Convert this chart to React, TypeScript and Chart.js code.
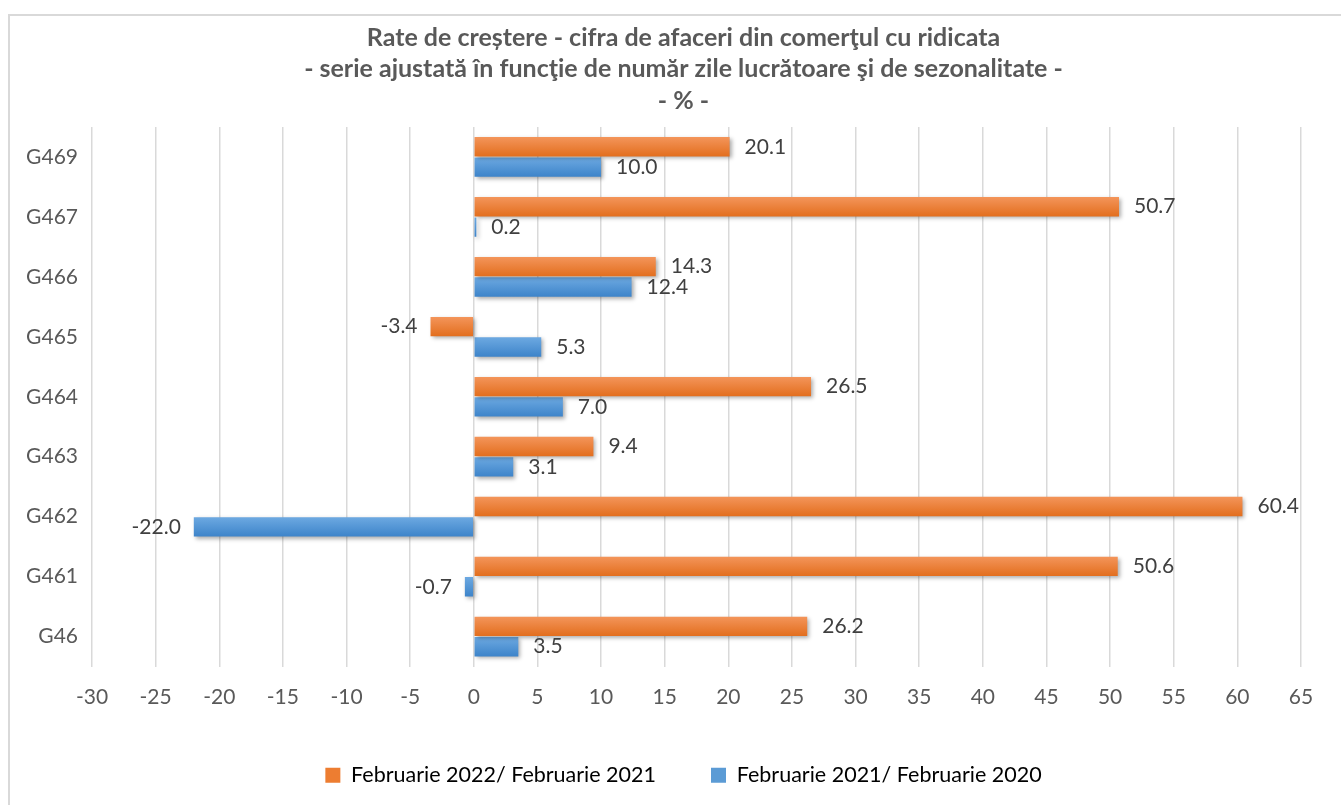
import React, { useEffect, useRef } from 'react';
import { Chart, registerables } from 'chart.js';

Chart.register(...registerables);

const categories = ['G469', 'G467', 'G466', 'G465', 'G464', 'G463', 'G462', 'G461', 'G46'];
const feb2022 = [20.1, 50.7, 14.3, -3.4, 26.5, 9.4, 60.4, 50.6, 26.2];
const feb2021 = [10.0, 0.2, 12.4, 5.3, 7.0, 3.1, -22.0, -0.7, 3.5];
const seriesNames = ['Februarie 2022/ Februarie 2021', 'Februarie 2021/ Februarie 2020'];
const titleLines = [
  'Rate de creștere - cifra de afaceri din comerţul cu ridicata',
  '- serie ajustată în funcţie de număr zile lucrătoare şi de sezonalitate -',
  '- % -',
];
const xMin = -30;
const xMax = 65;
const xStep = 5;

const ORANGE = '#ed7d31';
const BLUE = '#5b9bd5';
const FONT = 'Lato';
const CAT_PCT = 0.68;

const makeFill = (top: string, bottom: string, solid: string, dsIndex: number) => (c: any) => {
  const chart = c.chart;
  const ys = chart.scales && chart.scales.y;
  if (c.type !== 'data' || !ys) return solid;
  const center = ys.getPixelForValue(c.dataIndex);
  const step = Math.abs(ys.getPixelForValue(1) - ys.getPixelForValue(0));
  if (!isFinite(center) || !isFinite(step) || step === 0) return solid;
  const bw = (step * CAT_PCT) / 2;
  const y0 = dsIndex === 0 ? center - bw : center;
  const g = chart.ctx.createLinearGradient(0, y0, 0, y0 + bw);
  g.addColorStop(0, top);
  g.addColorStop(1, bottom);
  return g;
};

const shadowPlugin = {
  id: 'barShadow',
  beforeDatasetDraw(chart: any) {
    const ctx = chart.ctx;
    ctx.save();
    ctx.shadowColor = 'rgba(0,0,0,0.32)';
    ctx.shadowBlur = 4;
    ctx.shadowOffsetX = 2;
    ctx.shadowOffsetY = 2;
  },
  afterDatasetDraw(chart: any) {
    chart.ctx.restore();
  },
};

const valueLabels = {
  id: 'valueLabels',
  afterDatasetsDraw(chart: any) {
    const ctx = chart.ctx;
    ctx.save();
    ctx.font = `21px ${FONT}`;
    ctx.fillStyle = '#404040';
    ctx.textBaseline = 'middle';
    chart.data.datasets.forEach((ds: any, di: number) => {
      const meta = chart.getDatasetMeta(di);
      meta.data.forEach((el: any, i: number) => {
        const v = ds.data[i] as number;
        const p = el.getProps(['x', 'y'], true);
        const txt = v.toFixed(1);
        if (v >= 0) {
          ctx.textAlign = 'left';
          ctx.fillText(txt, p.x + 15, p.y);
        } else {
          ctx.textAlign = 'right';
          ctx.fillText(txt, p.x - 13, p.y);
        }
      });
    });
    ctx.restore();
  },
};

export default function App() {
  const canvasRef = useRef<HTMLCanvasElement | null>(null);

  useEffect(() => {
    let chart: Chart | null = null;
    let cancelled = false;
    const build = () => {
      if (cancelled || !canvasRef.current) return;
      chart = new Chart(canvasRef.current, {
        type: 'bar',
        data: {
          labels: categories,
          datasets: [
            {
              label: seriesNames[0],
              data: feb2022,
              backgroundColor: makeFill('#f4965c', '#e26d1c', ORANGE, 0),
              borderWidth: 0,
              categoryPercentage: CAT_PCT,
              barPercentage: 0.95,
            },
            {
              label: seriesNames[1],
              data: feb2021,
              backgroundColor: makeFill('#6eaae2', '#3c83c9', BLUE, 1),
              borderWidth: 0,
              categoryPercentage: CAT_PCT,
              barPercentage: 0.95,
            },
          ],
        },
        options: {
          indexAxis: 'y',
          responsive: false,
          maintainAspectRatio: false,
          animation: false,
          events: [],
          layout: { padding: { left: 26, right: 0, top: 12, bottom: 9 } },
          scales: {
            x: {
              type: 'linear',
              position: 'bottom',
              min: xMin,
              max: xMax,
              ticks: {
                stepSize: xStep,
                color: '#595959',
                font: { family: FONT, size: 21 },
                padding: 18,
              },
              grid: { color: '#d9d9d9', lineWidth: 1.5, drawTicks: false },
              border: { display: false },
              afterFit: (s: any) => {
                s.height = 43;
              },
            },
            y: {
              type: 'category',
              position: 'left',
              ticks: {
                color: '#595959',
                font: { family: FONT, size: 21 },
                padding: 14,
              },
              grid: { display: false, drawTicks: false },
              border: { display: false },
              afterFit: (s: any) => {
                s.width = 66;
              },
            },
            yRight: {
              type: 'category',
              axis: 'y',
              position: 'right',
              labels: categories,
              ticks: { display: false },
              grid: { display: false, drawTicks: false },
              border: { display: false },
              afterFit: (s: any) => {
                s.width = 40;
              },
            },
          },
          plugins: {
            title: {
              display: true,
              text: titleLines,
              color: '#595959',
              font: { family: FONT, size: 25, weight: 'bold', lineHeight: 1.26 },
              padding: { top: 10, bottom: 10.5 },
            },
            legend: {
              display: true,
              position: 'bottom',
              labels: {
                boxWidth: 15,
                boxHeight: 15,
                padding: 55,
                color: '#595959',
                font: { family: FONT, size: 21.5 },
                generateLabels: () => [
                  { text: seriesNames[0], fillStyle: ORANGE, strokeStyle: ORANGE, lineWidth: 0, hidden: false, datasetIndex: 0 },
                  { text: seriesNames[1], fillStyle: BLUE, strokeStyle: BLUE, lineWidth: 0, hidden: false, datasetIndex: 1 },
                ],
              },
            },
            tooltip: { enabled: false },
          },
        },
        plugins: [shadowPlugin, valueLabels],
      } as any);
    };
    const fonts: any = (document as any).fonts;
    if (fonts && fonts.load) {
      Promise.all([fonts.load(`21px ${FONT}`), fonts.load(`bold 21px ${FONT}`)])
        .catch(() => null)
        .then(build);
    } else {
      build();
    }
    return () => {
      cancelled = true;
      if (chart) chart.destroy();
    };
  }, []);

  return (
    <div
      style={{
        position: 'fixed',
        left: 0,
        top: 0,
        width: 1341,
        height: 805,
        overflow: 'hidden',
        background: '#ffffff',
      }}
    >
      <div
        style={{
          position: 'absolute',
          left: 8,
          top: 14,
          width: 1400,
          height: 900,
          border: '2px solid #d9d9d9',
          boxSizing: 'border-box',
        }}
      />
      <canvas
        ref={canvasRef}
        width={1341}
        height={805}
        style={{ position: 'absolute', left: 0, top: 0, width: 1341, height: 805 }}
      />
    </div>
  );
}
